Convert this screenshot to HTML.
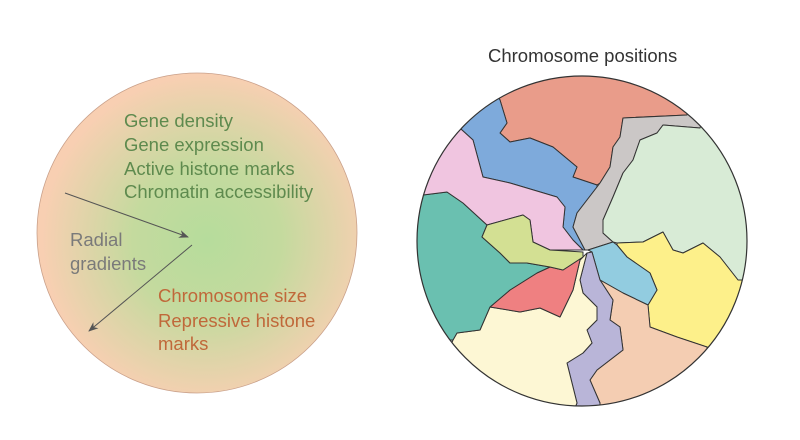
<!DOCTYPE html>
<html><head><style>
body{margin:0;background:#fff;}
svg{display:block;font-family:"Liberation Sans",sans-serif;}
</style></head><body>
<svg width="800" height="440" viewBox="0 0 800 440">
<defs>
<radialGradient id="g" cx="207" cy="240" r="165" gradientUnits="userSpaceOnUse">
<stop offset="0" stop-color="#b6dc9c"/>
<stop offset="0.45" stop-color="#c4da9e"/>
<stop offset="1" stop-color="#f8cfb2"/>
</radialGradient>
<marker id="ah" markerWidth="10" markerHeight="8" refX="9" refY="4" orient="auto" markerUnits="userSpaceOnUse">
<path d="M0,0 L10,4 L0,8 L3,4 Z" fill="#555"/>
</marker>
<clipPath id="cc"><circle cx="582" cy="241" r="165"/></clipPath>
</defs>
<circle cx="197" cy="233" r="160" fill="url(#g)" stroke="#c9a08a" stroke-width="0.8"/>
<g font-size="18.5" fill="#5e8a4e">
<text x="124" y="127">Gene density</text>
<text x="124" y="151">Gene expression</text>
<text x="124" y="175">Active histone marks</text>
<text x="124" y="198">Chromatin accessibility</text>
</g>
<g font-size="18.5" fill="#c0683a">
<text x="158" y="302">Chromosome size</text>
<text x="158" y="327">Repressive histone</text>
<text x="158" y="350">marks</text>
</g>
<g font-size="18.5" fill="#7a7a7a">
<text x="70" y="246">Radial</text>
<text x="70" y="270">gradients</text>
</g>
<line x1="65" y1="193" x2="188" y2="237" stroke="#555" stroke-width="1" marker-end="url(#ah)"/>
<line x1="192" y1="245" x2="89" y2="331" stroke="#555" stroke-width="1" marker-end="url(#ah)"/>
<text x="488" y="62" font-size="18.5" fill="#333">Chromosome positions</text>
<g clip-path="url(#cc)" stroke="#333" stroke-width="1" stroke-linejoin="round">
<polygon fill="#e99c8a" points="500,100 507,123 500,133 510,142 530,138 553,147 577,167 573,177 597,185 600,183 610,167 613,147 620,137 623,118 687,115 700,60 480,60"/>
<polygon fill="#7eaadb" points="462,130 473,140 483,177 510,183 557,197 565,207 563,227 573,240 583,250 585,250 573,227 577,213 597,187 597,185 573,177 577,167 553,147 530,138 510,142 500,133 507,123 500,100 480,60 420,80"/>
<polygon fill="#cbc7c6" points="687,115 623,118 620,137 613,147 610,167 600,183 597,187 577,213 573,227 585,250 588,250 613,242 603,233 603,220 613,197 623,173 633,160 640,140 657,133 663,125 700,128 720,100 700,60"/>
<polygon fill="#d8ebd6" points="700,128 663,125 657,133 640,140 633,160 623,173 613,197 603,220 603,233 613,242 617,243 643,242 663,232 673,250 683,253 703,243 720,257 738,280 800,280 800,60 720,60"/>
<polygon fill="#fdf08a" points="617,243 643,242 663,232 673,250 683,253 703,243 720,257 738,280 800,280 800,380 707,347 677,337 650,327 648,305 657,290 650,273 627,257 617,245"/>
<polygon fill="#92cce0" points="588,250 613,242 617,245 627,257 650,273 657,290 648,305 623,293 600,280 592,252"/>
<polygon fill="#f4cdb2" points="600,280 623,293 648,305 650,327 677,337 707,347 720,420 600,420 600,403 590,380 597,370 623,350 620,327 610,320 613,300"/>
<polygon fill="#b9b5d8" points="592,252 600,280 613,300 610,320 620,327 623,350 597,370 590,380 600,403 600,420 570,420 577,403 567,363 583,353 592,343 587,330 597,320 597,307 583,293 580,280 587,253"/>
<polygon fill="#fdf7d4" points="580,260 573,290 560,317 540,308 520,312 490,307 480,330 457,333 453,340 420,420 570,420 577,403 567,363 583,353 592,343 587,330 597,320 597,307 583,293 580,280 587,253"/>
<polygon fill="#ef8081" points="583,257 580,260 573,290 560,317 540,308 520,312 490,307 510,290 537,273 550,267 563,270"/>
<polygon fill="#6ac0b0" points="423,195 447,192 463,203 487,225 482,237 500,253 510,263 527,263 550,267 537,273 510,290 490,307 480,330 457,333 453,340 400,340 400,195"/>
<polygon fill="#f0c5e0" points="400,195 423,195 447,192 463,203 487,225 523,215 530,220 533,242 550,250 583,250 573,240 563,227 565,207 557,197 510,183 483,177 473,140 462,130 420,100 400,150"/>
<polygon fill="#d3e093" points="482,237 487,225 523,215 530,220 533,242 550,250 583,252 583,257 563,270 550,267 527,263 510,263 500,253"/>
</g>
<circle cx="582" cy="241" r="165" fill="none" stroke="#333" stroke-width="1.2"/>
</svg>
</body></html>
